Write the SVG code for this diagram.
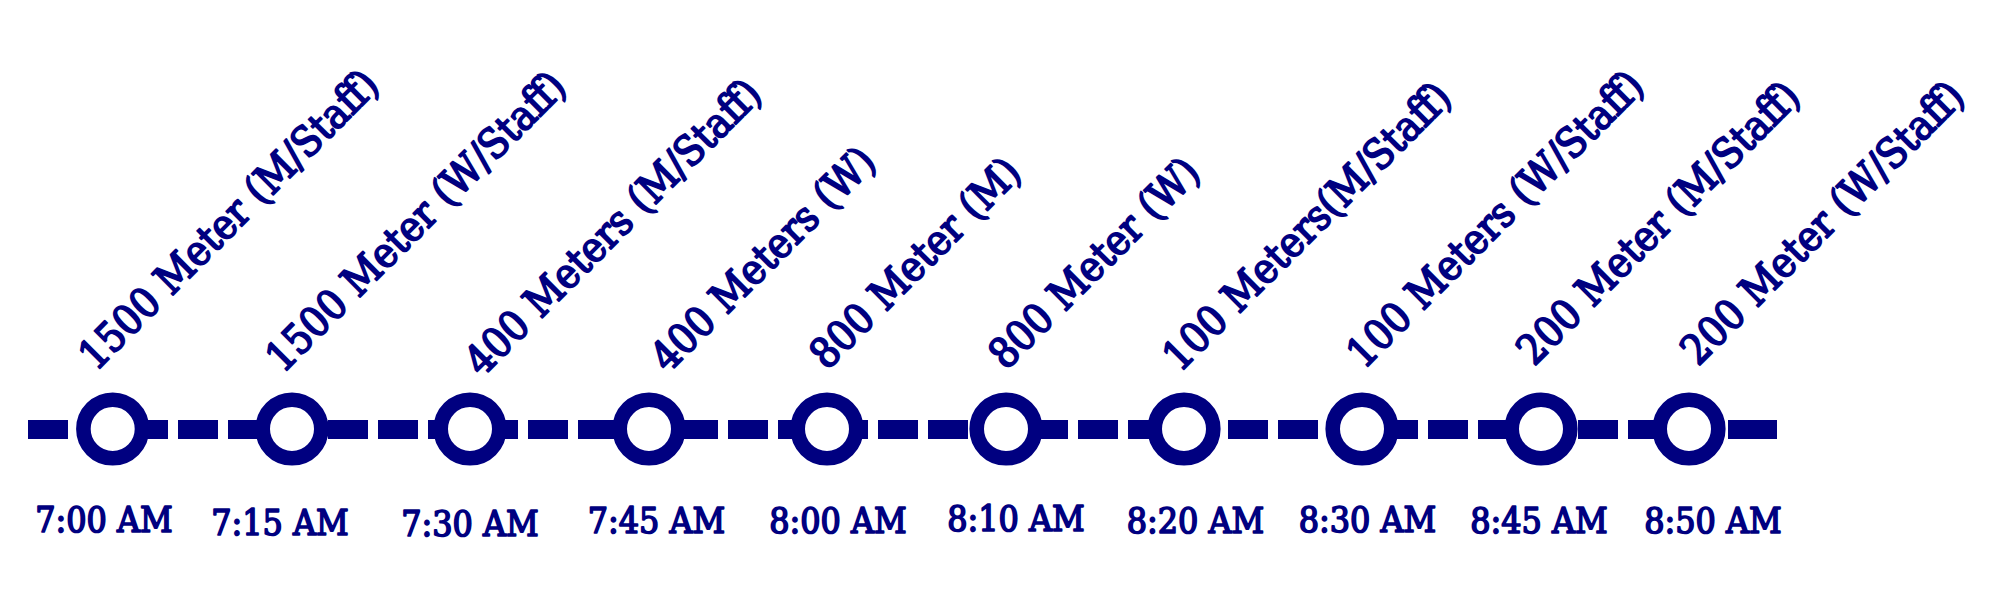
<svg xmlns="http://www.w3.org/2000/svg" width="1994" height="597" viewBox="0 0 1994 597">
<style>
.bg{fill:#ffffff}
.track{stroke:#000080;stroke-width:19;fill:none}
.dash{stroke-dasharray:40 10}
.stop{fill:#ffffff;stroke:#000080;stroke-width:14.6}
.time{font-family:'DejaVu Serif Condensed','DejaVu Serif',serif;font-stretch:condensed;font-size:35.5px;fill:#000080;stroke:#000080;stroke-width:1.6;stroke-linejoin:round;text-anchor:middle}
.event{font-family:'DejaVu Serif Condensed','DejaVu Serif',serif;font-stretch:condensed;font-size:41.5px;fill:#000080;stroke:#000080;stroke-width:1.8;stroke-linejoin:round}
</style>
<rect class="bg" x="0" y="0" width="1994" height="597"/>
<g id="connectors">
<line class="track dash" x1="28" y1="429.5" x2="1768" y2="429.5"/>
<line class="track" x1="1728" y1="429.5" x2="1777" y2="429.5"/>
</g>
<g id="n1"><circle class="stop" cx="112.7" cy="429" r="29.3"/><text class="time" x="104" y="532">7:00 AM</text><text class="event" transform="translate(96,372) rotate(-45)">1500 Meter (M/Staff)</text></g>
<g id="n2"><circle class="stop" cx="292" cy="429" r="29.3"/><text class="time" x="280" y="535">7:15 AM</text><text class="event" transform="translate(283,374) rotate(-45)">1500 Meter (W/Staff)</text></g>
<g id="n3"><circle class="stop" cx="470" cy="429" r="29.3"/><text class="time" x="470" y="536">7:30 AM</text><text class="event" transform="translate(482,378) rotate(-45)">400 Meters (M/Staff)</text></g>
<g id="n4"><circle class="stop" cx="649" cy="429" r="29.3"/><text class="time" x="656.5" y="533">7:45 AM</text><text class="event" transform="translate(668,374) rotate(-45)">400 Meters (W)</text></g>
<g id="n5"><circle class="stop" cx="827" cy="429" r="29.3"/><text class="time" x="838" y="533">8:00 AM</text><text class="event" transform="translate(827,371) rotate(-45)">800 Meter (M)</text></g>
<g id="n6"><circle class="stop" cx="1006" cy="429" r="29.3"/><text class="time" x="1016" y="531">8:10 AM</text><text class="event" transform="translate(1006,371) rotate(-45)">800 Meter (W)</text></g>
<g id="n7"><circle class="stop" cx="1184" cy="429" r="29.3"/><text class="time" x="1195.5" y="533">8:20 AM</text><text class="event" transform="translate(1180,373) rotate(-45)">100 Meters(M/Staff)</text></g>
<g id="n8"><circle class="stop" cx="1362" cy="429" r="29.3"/><text class="time" x="1367.5" y="532">8:30 AM</text><text class="event" transform="translate(1364,370) rotate(-45)">100 Meters (W/Staff)</text></g>
<g id="n9"><circle class="stop" cx="1541" cy="429" r="29.3"/><text class="time" x="1539" y="533">8:45 AM</text><text class="event" transform="translate(1534,367) rotate(-45)">200 Meter (M/Staff)</text></g>
<g id="n10"><circle class="stop" cx="1689" cy="429" r="29.3"/><text class="time" x="1713" y="533">8:50 AM</text><text class="event" transform="translate(1698,367) rotate(-45)">200 Meter (W/Staff)</text></g>
</svg>
